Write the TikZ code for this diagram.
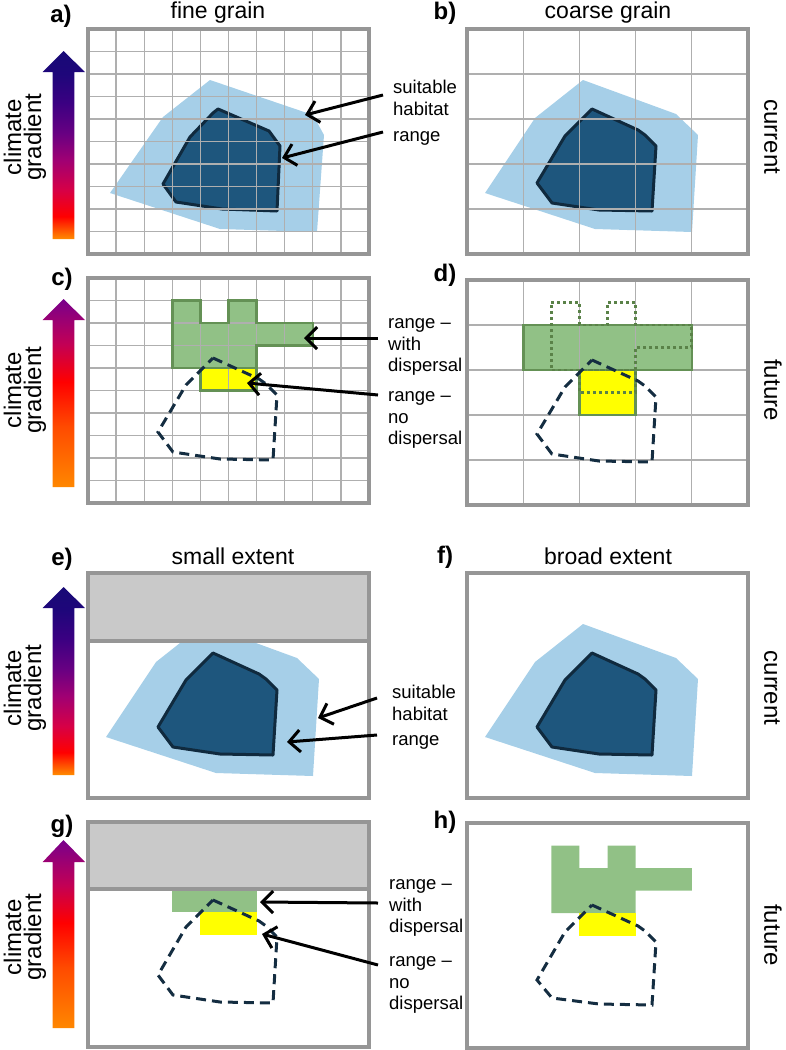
\documentclass[tikz,border=0pt]{standalone}
\usepackage{fontspec}
\setmainfont{Liberation Sans}
\usetikzlibrary{arrows.meta,calc}
\definecolor{lightb}{RGB}{166,207,232}
\definecolor{darkb}{RGB}{30,86,125}
\definecolor{darkbd}{RGB}{16,42,62}
\definecolor{greenf}{RGB}{145,193,134}
\definecolor{greenb}{RGB}{100,145,85}
\definecolor{greend}{RGB}{90,130,72}
\definecolor{frameg}{RGB}{150,150,150}
\definecolor{gridg}{RGB}{175,175,175}
\definecolor{bandg}{RGB}{201,201,201}
\definecolor{yel}{RGB}{255,255,0}
\definecolor{dashc}{RGB}{20,45,65}
\definecolor{ca0}{RGB}{255,140,0}
\definecolor{ca1}{RGB}{255,0,0}
\definecolor{ca2}{RGB}{215,0,70}
\definecolor{ca3}{RGB}{160,0,115}
\definecolor{ca4}{RGB}{105,0,130}
\definecolor{ca5}{RGB}{60,0,130}
\definecolor{ca6}{RGB}{30,6,122}
\definecolor{ca7}{RGB}{24,10,118}
\definecolor{cf0}{RGB}{255,135,0}
\definecolor{cf1}{RGB}{255,75,0}
\definecolor{cf2}{RGB}{255,0,0}
\definecolor{cf3}{RGB}{195,0,85}
\definecolor{cf4}{RGB}{120,0,140}
\pgfdeclareverticalshading{climcur}{100bp}{color(0bp)=(ca0); color(25bp)=(ca0); color(31bp)=(ca1); color(38bp)=(ca2); color(46bp)=(ca3); color(53bp)=(ca4); color(61bp)=(ca5); color(69bp)=(ca6); color(75bp)=(ca7); color(100bp)=(ca7)}
\pgfdeclareverticalshading{climfut}{100bp}{color(0bp)=(cf0); color(25bp)=(cf0); color(41bp)=(cf1); color(53bp)=(cf2); color(63bp)=(cf3); color(75bp)=(cf4); color(100bp)=(cf4)}
\begin{document}
\begin{tikzpicture}[x=1pt,y=-1pt,
  fr/.style={draw=frameg, line width=3.2pt},
  gridl/.style={draw=gridg, line width=1.3pt},
  dk/.style={fill=darkb, draw=darkbd, line width=3pt, line join=round},
  dsh/.style={draw=dashc, line width=3pt, dash pattern=on 10pt off 6pt},
  dotg/.style={draw=greend, line width=2.8pt, dash pattern=on 3pt off 3pt},
  grnb/.style={draw=greenb, line width=2.6pt},
  band/.style={fill=bandg, draw=frameg, line width=3.2pt},
  lab/.style={line width=3pt, -{Straight Barb[length=11pt,width=22pt]}},
  ttl/.style={font=\fontsize{23}{28}\selectfont, anchor=base, inner sep=0pt},
  pnl/.style={font=\fontsize{24}{28}\selectfont\bfseries, anchor=base, inner sep=0pt},
  clim/.style={font=\fontsize{24}{20}\selectfont, rotate=90, align=center, inner sep=0pt},
  side/.style={font=\fontsize{24}{28}\selectfont, rotate=-90, inner sep=0pt},
  lbl/.style={font=\fontsize{18.5}{21.5}\selectfont, align=left, anchor=west, inner sep=0pt}]
\useasboundingbox (0,0) rectangle (785,1050);

% ---------- panel a
\begin{scope}[shift={(88,29)}]
\fill[lightb] (122,51) -- (225,86) -- (236,106) -- (229,203) -- (132,200) -- (22,164) -- (75,88) -- cycle;
\filldraw[dk] (130,80) -- (181,102) -- (192,117) -- (189,182) -- (134,180) -- (88,173) -- (75,155) -- (102,108) -- (125,84) -- cycle;
\foreach \i in {1,...,9} {\draw[gridl] (\i*28.1,0) -- (\i*28.1,225); \draw[gridl] (0,\i*22.5) -- (281,\i*22.5);}
\draw[fr] (0,0) rectangle (281,225);
\end{scope}
% ---------- panel b
\begin{scope}[shift={(467,29)}]
\fill[lightb] (116,51) -- (209,85) -- (231,106) -- (225,203) -- (128,200) -- (18,164) -- (68,89) -- cycle;
\filldraw[dk] (125,80) -- (171,101) -- (178,106) -- (189,117) -- (185,182) -- (132,181) -- (85,174) -- (70,154) -- (98,107) -- cycle;
\foreach \i in {1,...,4} {\draw[gridl] (\i*56.2,0) -- (\i*56.2,225); \draw[gridl] (0,\i*45) -- (281,\i*45);}
\draw[fr] (0,0) rectangle (281,225);
\end{scope}
% ---------- panel c
\begin{scope}[shift={(88,278)}]
\begin{scope}[x=28.1pt,y=-22.5pt]
\fill[greenf] (3,1) -- (4,1) -- (4,2) -- (5,2) -- (5,1) -- (6,1) -- (6,2) -- (8,2) -- (8,3) -- (6,3) -- (6,4) -- (3,4) -- cycle;
\fill[yel] (4,4) rectangle (6,5);
\end{scope}
\foreach \i in {1,...,9} {\draw[gridl] (\i*28.1,0) -- (\i*28.1,225); \draw[gridl] (0,\i*22.5) -- (281,\i*22.5);}
\begin{scope}[x=28.1pt,y=-22.5pt]
\draw[grnb] (3,1) -- (4,1) -- (4,2) -- (5,2) -- (5,1) -- (6,1) -- (6,2) -- (8,2) -- (8,3) -- (6,3) -- (6,4) -- (3,4) -- cycle;
\draw[grnb] (4,4) rectangle (6,5);
\end{scope}
\draw[dsh] (125,80) -- (171,101) -- (178,106) -- (189,117) -- (185,182) -- (132,181) -- (85,174) -- (70,154) -- (98,107) -- cycle;
\draw[fr] (0,0) rectangle (281,225);
\end{scope}
% ---------- panel d
\begin{scope}[shift={(467,280)}]
\fill[greenf] (56.2,45) rectangle (224.8,90);
\fill[yel] (112.4,90) rectangle (168.6,135);
\foreach \i in {1,...,4} {\draw[gridl] (\i*56.2,0) -- (\i*56.2,225); \draw[gridl] (0,\i*45) -- (281,\i*45);}
\draw[grnb] (56.2,45) rectangle (224.8,90);
\draw[grnb] (112.4,90) rectangle (168.6,135);
\begin{scope}[x=28.1pt,y=-22.5pt]
\draw[dotg] (3,1) -- (4,1) -- (4,2) -- (5,2) -- (5,1) -- (6,1) -- (6,2) -- (8,2) -- (8,3) -- (6,3) -- (6,4) -- (3,4) -- cycle;
\draw[dotg] (4,4) rectangle (6,5);
\end{scope}
\draw[dsh] (125,80) -- (171,101) -- (178,106) -- (189,117) -- (185,182) -- (132,181) -- (85,174) -- (70,154) -- (98,107) -- cycle;
\draw[fr] (0,0) rectangle (281,225);
\end{scope}
% ---------- panel e
\begin{scope}[shift={(88,573)}]
\fill[lightb] (116,51) -- (209,85) -- (231,106) -- (225,203) -- (128,200) -- (18,164) -- (68,89) -- cycle;
\filldraw[dk] (125,80) -- (171,101) -- (178,106) -- (189,117) -- (185,182) -- (132,181) -- (85,174) -- (70,154) -- (98,107) -- cycle;
\filldraw[band] (0,0) rectangle (281,68);
\draw[fr] (0,0) rectangle (281,225);
\end{scope}
% ---------- panel f
\begin{scope}[shift={(467,573)}]
\fill[lightb] (116,51) -- (209,85) -- (231,106) -- (225,203) -- (128,200) -- (18,164) -- (68,89) -- cycle;
\filldraw[dk] (125,80) -- (171,101) -- (178,106) -- (189,117) -- (185,182) -- (132,181) -- (85,174) -- (70,154) -- (98,107) -- cycle;
\draw[fr] (0,0) rectangle (281,225);
\end{scope}
% ---------- panel g
\begin{scope}[shift={(88,822)}]
\begin{scope}[x=28.1pt,y=-22.5pt]
\fill[greenf] (3,3) rectangle (6,4);
\fill[yel] (4,4) rectangle (6,5);
\end{scope}
\filldraw[band] (0,0) rectangle (281,67);
\draw[dsh] (125,78) -- (171,99) -- (178,104) -- (189,115) -- (185,181) -- (132,180) -- (85,173) -- (70,153) -- (98,105) -- cycle;
\draw[fr] (0,0) rectangle (281,225);
\end{scope}
% ---------- panel h
\begin{scope}[shift={(467,823)}]
\begin{scope}[x=28.1pt,y=-22.5pt]
\fill[greenf] (3,1) -- (4,1) -- (4,2) -- (5,2) -- (5,1) -- (6,1) -- (6,2) -- (8,2) -- (8,3) -- (6,3) -- (6,4) -- (3,4) -- cycle;
\fill[yel] (4,4) rectangle (6,5);
\end{scope}
\draw[dsh] (125,82) -- (171,103) -- (178,108) -- (189,119) -- (185,182) -- (132,181) -- (85,175) -- (70,157) -- (98,109) -- cycle;
\draw[fr] (0,0) rectangle (281,225);
\end{scope}

% ---------- climate gradient arrows
\shade[shading=climcur] (52.7,239) -- (52.7,72) -- (42.7,72) -- (63.5,51) -- (85,72) -- (74.3,72) -- (74.3,239) -- cycle;
\shade[shading=climfut] (52.7,487) -- (52.7,320) -- (42.7,320) -- (63.5,299) -- (85,320) -- (74.3,320) -- (74.3,487) -- cycle;
\shade[shading=climcur] (52.7,775) -- (52.7,608) -- (42.7,608) -- (63.5,587) -- (85,608) -- (74.3,608) -- (74.3,775) -- cycle;
\shade[shading=climfut] (52.7,1028) -- (52.7,862) -- (42.7,862) -- (63.5,840) -- (85,862) -- (74.3,862) -- (74.3,1028) -- cycle;
\node[clim] (k1) at (25,137) {climate\\gradient};
\node[clim] (k2) at (25,390) {climate\\gradient};
\node[clim] (k3) at (25,688) {climate\\gradient};
\node[clim] (k4) at (25,937) {climate\\gradient};

% ---------- titles and panel letters
\node[ttl] (t1) at (218,18) {fine grain};
\node[ttl] (t2) at (608,18) {coarse grain};
\node[ttl] (t3) at (233,564) {small extent};
\node[ttl] (t4) at (608,564) {broad extent};
\node[pnl] (la) at (61,22) {a)};
\node[pnl] (lb) at (445,19) {b)};
\node[pnl] (lc) at (62,285) {c)};
\node[pnl] (ld) at (445,281) {d)};
\node[pnl] (le) at (62,565) {e)};
\node[pnl] (lf) at (445,563) {f)};
\node[pnl] (lg) at (62,832) {g)};
\node[pnl] (lh) at (445,828) {h)};
\node[side] (s1) at (772,137) {current};
\node[side] (s2) at (773,390) {future};
\node[side] (s3) at (772,688) {current};
\node[side] (s4) at (773,935) {future};

% ---------- labels and arrows
\node[lbl] (sh1) at (393,98) {suitable\\habitat};
\node[lbl] (rg1) at (393,138) {range};
\node[lbl] (wd1) at (388,347) {range –\\with\\dispersal};
\node[lbl] (nd1) at (388,420) {range –\\no\\dispersal};
\node[lbl] (sh2) at (392,703) {suitable\\habitat};
\node[lbl] (rg2) at (392,742) {range};
\node[lbl] (wd2) at (389,908) {range –\\with\\dispersal};
\node[lbl] (nd2) at (389,985) {range –\\no\\dispersal};
\coordinate (pa1) at (305,115);
\coordinate (pa2) at (282,158);
\coordinate (pc1) at (304,338);
\coordinate (pc2) at (247,383);
\coordinate (pe1) at (318,718);
\coordinate (pe2) at (287,742);
\coordinate (pg1) at (260,902);
\coordinate (pg2) at (262,934);
\draw[lab] ($(sh1.west)+(-10,-3)$) -- (pa1);
\draw[lab] ($(rg1.west)+(-10,-6)$) -- (pa2);
\draw[lab] ($(wd1.west)+(-10,-9)$) -- (pc1);
\draw[lab] ($(nd1.west)+(-10,-25)$) -- (pc2);
\draw[lab] ($(sh2.west)+(-15,-5)$) -- (pe1);
\draw[lab] ($(rg2.west)+(-15,-7)$) -- (pe2);
\draw[lab] ($(wd2.west)+(-11,-5)$) -- (pg1);
\draw[lab] ($(nd2.west)+(-11,-20)$) -- (pg2);
\end{tikzpicture}
\end{document}
